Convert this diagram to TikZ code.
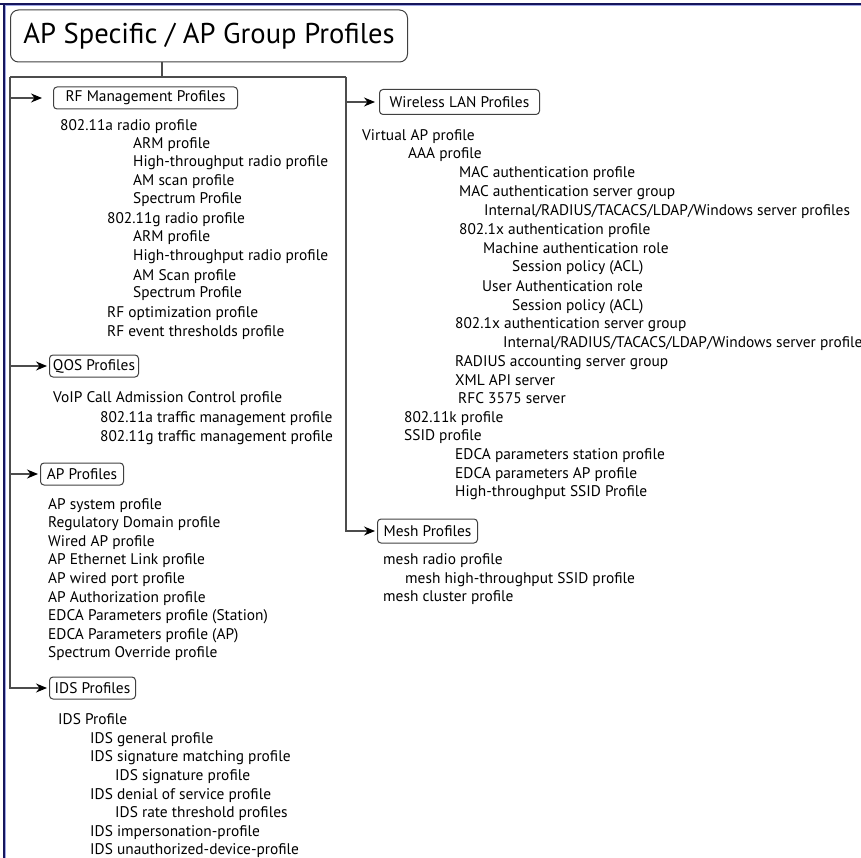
\documentclass[tikz,border=0pt]{standalone}
\usepackage{fontspec}
\setmainfont{PT Sans}
\usetikzlibrary{arrows.meta, positioning}

\definecolor{framenavy}{RGB}{22,22,92}
\definecolor{framelight}{RGB}{160,168,230}

\begin{document}
\begin{tikzpicture}[x=1pt, y=-1pt,
    item/.style={anchor=west, inner sep=0pt, font=\fontsize{15.4}{18}\selectfont, text height=11pt, text depth=3pt},
    group/.style={anchor=west, draw=black!75, line width=1pt, rounded corners=3.5pt, inner sep=0pt, minimum height=22pt, font=\fontsize{15.4}{18}\selectfont},
    wire/.style={draw=black!70, line width=1.2pt},
    conn/.style={wire, -{Stealth[length=11pt, width=9pt, black]}, shorten >=2pt}]
    \useasboundingbox (0,0) rectangle (861,858);
    % page frame
    \draw[framenavy, line width=1.6pt] (0,4) -- (861,4);
    \draw[framenavy, line width=1.6pt] (4,4) -- (4,858);
    \draw[framelight, line width=0.8pt] (5,5.6) -- (861,5.6);
    \draw[framelight, line width=0.8pt] (5.6,5) -- (5.6,858);

    % title
    \node[group, minimum width=397pt, minimum height=52pt, rounded corners=8pt, font=\fontsize{28.6}{32}\selectfont] (title) at (10,36) {AP Specific / AP Group Profiles};

    % section boxes
    \node[group, minimum width=184pt] (rf) at (53,98) {RF Management Profiles};
    \node[group, minimum width=89pt] (qos) at (49,366) {QOS Profiles};
    \node[group, minimum width=83pt] (ap) at (40,474) {AP Profiles};
    \node[group, minimum width=86pt] (ids) at (49,688) {IDS Profiles};
    \node[group, minimum width=160pt, minimum height=25pt] (wlan) at (379,102) {Wireless LAN Profiles};
    \node[group, minimum width=100pt, minimum height=24pt] (mesh) at (377,531) {Mesh Profiles};

    % RF management
    \node[item] (rfa) at (60,127) {802.11a radio profile};
    \node[item] (rfa1) at (133,145) {ARM profile};
    \node[item] (rfa2) at (133,163) {High-throughput radio profile};
    \node[item] (rfa3) at (133,182) {AM scan profile};
    \node[item] (rfa4) at (133,200) {Spectrum Profile};
    \node[item] (rfg) at (107,220) {802.11g radio profile};
    \node[item] (rfg1) at (133,238) {ARM profile};
    \node[item] (rfg2) at (133,257) {High-throughput radio profile};
    \node[item] (rfg3) at (133,276) {AM Scan profile};
    \node[item] (rfg4) at (133,294) {Spectrum Profile};
    \node[item] (rfo) at (107,313) {RF optimization profile};
    \node[item] (rfe) at (107,332) {RF event thresholds profile};

    % QOS
    \node[item] (voip) at (53,398) {VoIP Call Admission Control profile};
    \node[item] (voipa) at (100,418) {802.11a traffic management profile};
    \node[item] (voipg) at (100,437) {802.11g traffic management profile};

    % AP
    \node[item] (ap1) at (48,505) {AP system profile};
    \node[item] (ap2) at (48,523) {Regulatory Domain profile};
    \node[item] (ap3) at (48,542) {Wired AP profile};
    \node[item] (ap4) at (48,560) {AP Ethernet Link profile};
    \node[item] (ap5) at (48,579) {AP wired port profile};
    \node[item] (ap6) at (48,598) {AP Authorization profile};
    \node[item] (ap7) at (48,616) {EDCA Parameters profile (Station)};
    \node[item] (ap8) at (48,635) {EDCA Parameters profile (AP)};
    \node[item] (ap9) at (48,653) {Spectrum Override profile};

    % IDS
    \node[item] (idsp) at (58,720) {IDS Profile};
    \node[item] (idsa) at (90,739) {IDS general profile};
    \node[item] (idsb) at (90,757) {IDS signature matching profile};
    \node[item] (idsb1) at (115,776) {IDS signature profile};
    \node[item] (idsc) at (90,795) {IDS denial of service profile};
    \node[item] (idsc1) at (115,813) {IDS rate threshold profiles};
    \node[item] (idsd) at (90,832) {IDS impersonation-profile};
    \node[item] (idse) at (90,850) {IDS unauthorized-device-profile};

    % wireless LAN
    \node[item] (vap) at (362,137) {Virtual AP profile};
    \node[item] (aaa) at (408,155) {AAA profile};
    \node[item] (mac) at (459,174) {MAC authentication profile};
    \node[item] (macg) at (459,193) {MAC authentication server group};
    \node[item] (macs) at (484,212) {Internal/RADIUS/TACACS/LDAP/Windows server profiles};
    \node[item] (dotx) at (459,231) {802.1x authentication profile};
    \node[item] (mach) at (483,250) {Machine authentication role};
    \node[item] (mach1) at (512,268) {Session policy (ACL)};
    \node[item] (user) at (482,287) {User Authentication role};
    \node[item] (user1) at (512,306) {Session policy (ACL)};
    \node[item] (dotxg) at (455,324) {802.1x authentication server group};
    \node[item] (dotxs) at (503,343) {Internal/RADIUS/TACACS/LDAP/Windows server profile};
    \node[item] (radius) at (455,362) {RADIUS accounting server group};
    \node[item] (xml) at (455,381) {XML API server};
    \node[item] (rfc) at (458,399) {RFC 3575 server};
    \node[item] (dotk) at (404,418) {802.11k profile};
    \node[item] (ssid) at (404,436) {SSID profile};
    \node[item] (edst) at (455,455) {EDCA parameters station profile};
    \node[item] (edap) at (455,474) {EDCA parameters AP profile};
    \node[item] (htssid) at (455,492) {High-throughput SSID Profile};

    % mesh
    \node[item] (mr) at (383,560) {mesh radio profile};
    \node[item] (mh) at (405,579) {mesh high-throughput SSID profile};
    \node[item] (mc) at (383,597) {mesh cluster profile};

    % tree lines
    \coordinate (drop) at (162,77);
    \coordinate (lft) at (10,77);
    \coordinate (rgt) at (346,77);
    \draw[wire] (title.south -| drop) -- (drop);
    \draw[wire] (lft) -- (rgt);
    \draw[conn, shorten >=11pt] (lft |- rf.west) -- (rf.west);
    \draw[conn] (lft |- qos.west) -- (qos.west);
    \draw[conn] (lft |- ap.west) -- (ap.west);
    \draw[conn] (lft) |- (ids.west);
    \draw[conn, shorten >=4pt] (rgt |- wlan.west) -- (wlan.west);
    \draw[conn] (rgt) |- (mesh.west);
\end{tikzpicture}
\end{document}
